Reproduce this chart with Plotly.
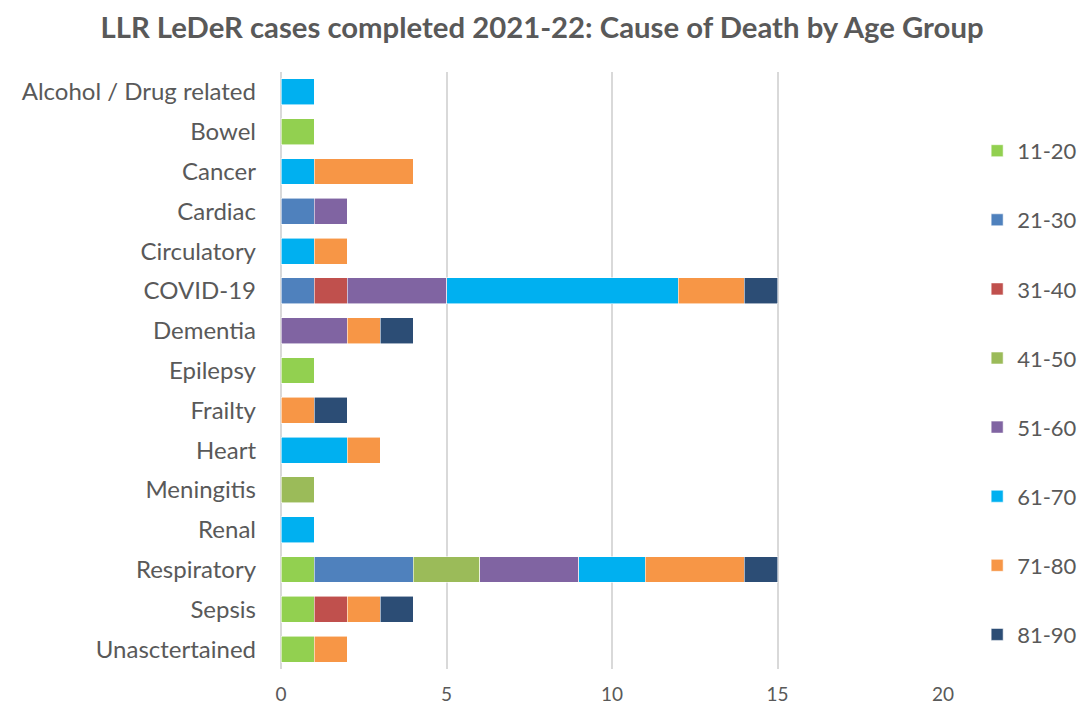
import plotly.graph_objects as go

# Causes of death, top to bottom as listed on the chart
causes = [
    "Alcohol / Drug related", "Bowel", "Cancer", "Cardiac", "Circulatory",
    "COVID-19", "Dementia", "Epilepsy", "Frailty", "Heart", "Meningitis",
    "Renal", "Respiratory", "Sepsis", "Unasctertained",
]

age_groups = ["11-20", "21-30", "31-40", "41-50", "51-60", "61-70", "71-80", "81-90"]

# Case counts per cause for each age group (order matches `causes`)
age_11_20 = [0, 1, 0, 0, 0, 0, 0, 1, 0, 0, 0, 0, 1, 1, 1]
age_21_30 = [0, 0, 0, 1, 0, 1, 0, 0, 0, 0, 0, 0, 3, 0, 0]
age_31_40 = [0, 0, 0, 0, 0, 1, 0, 0, 0, 0, 0, 0, 0, 1, 0]
age_41_50 = [0, 0, 0, 0, 0, 0, 0, 0, 0, 0, 1, 0, 2, 0, 0]
age_51_60 = [0, 0, 0, 1, 0, 3, 2, 0, 0, 0, 0, 0, 3, 0, 0]
age_61_70 = [1, 0, 1, 0, 1, 7, 0, 0, 0, 2, 0, 1, 2, 0, 0]
age_71_80 = [0, 0, 3, 0, 1, 2, 1, 0, 1, 1, 0, 0, 3, 1, 1]
age_81_90 = [0, 0, 0, 0, 0, 1, 1, 0, 1, 0, 0, 0, 1, 1, 0]

series = [age_11_20, age_21_30, age_31_40, age_41_50,
          age_51_60, age_61_70, age_71_80, age_81_90]

colors = ["#92D050", "#4F81BD", "#C0504D", "#9BBB59",
          "#8064A2", "#00B0F0", "#F79646", "#2C4D75"]

x_ticks = [0, 5, 10, 15, 20]

FONT = "Lato"
GREY = "#595959"

fig = go.Figure()
for name, vals, col in zip(age_groups, series, colors):
    fig.add_trace(go.Bar(
        y=causes,
        x=vals,
        name=name,
        orientation="h",
        legendgroup=name,
        marker=dict(color=col, line=dict(color="rgba(255,255,255,0.7)", width=0.8)),
    ))

fig.update_layout(
    width=1084,
    height=711,
    barmode="stack",
    bargap=0.35,
    plot_bgcolor="white",
    paper_bgcolor="white",
    margin=dict(l=281, r=140, t=72, b=42, autoexpand=False),
    title=dict(
        text="<b>LLR LeDeR cases completed 2021-22: Cause of Death by Age Group</b>",
        x=0.5,
        xanchor="center",
        y=0.961,
        yanchor="middle",
        font=dict(family=FONT, size=29.3, color=GREY),
    ),
    xaxis=dict(
        range=[0, 20.03],
        tickvals=x_ticks,
        showgrid=True,
        gridcolor="#D9D9D9",
        gridwidth=1.5,
        zeroline=True,
        zerolinecolor="#D9D9D9",
        zerolinewidth=1.5,
        showline=False,
        ticks="",
        ticklabelstandoff=12,
        tickfont=dict(family=FONT, size=19, color=GREY),
    ),
    yaxis=dict(
        categoryorder="array",
        categoryarray=causes,
        autorange="reversed",
        showgrid=False,
        showline=False,
        ticks="",
        ticklabelstandoff=24,
        tickfont=dict(family=FONT, size=24, color=GREY),
    ),
    legend=dict(
        x=1.05,
        xanchor="left",
        y=0.903,
        yanchor="top",
        traceorder="grouped",
        tracegroupgap=37.5,
        font=dict(family=FONT, size=22, color=GREY),
        itemwidth=30,
    ),
)

fig.write_html("out.html")
